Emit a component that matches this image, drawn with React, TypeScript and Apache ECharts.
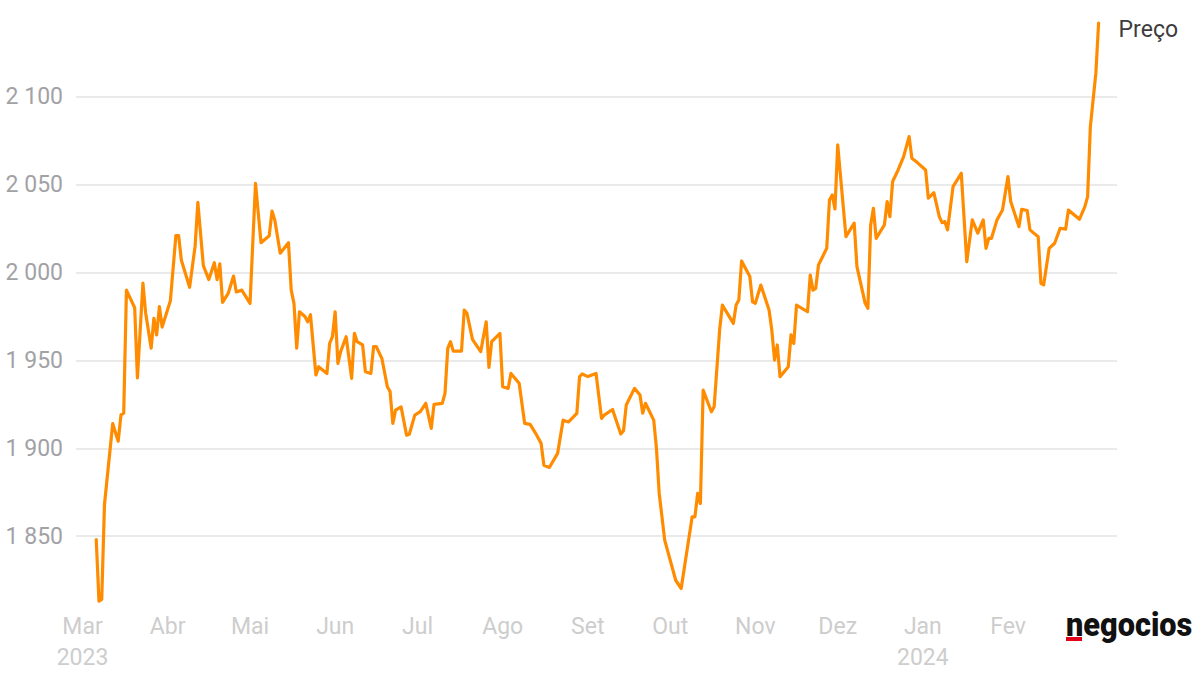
import React, { useEffect, useRef } from "react";
import * as echarts from "echarts";

// Days counted from 1 March 2023
const dayOffsets = [
  5, 6, 7, 8, 11, 13, 14, 15, 16, 19, 20, 22, 23, 25, 26, 27, 28, 29, 32, 34, 35, 36, 39, 41, 42, 44, 46, 48, 49, 50,
  51, 53, 55, 56, 58, 61, 63, 65, 68, 69, 70, 72, 75, 76, 77, 78, 79, 81, 82, 83, 85, 86, 89, 90, 91, 92, 93, 94, 96, 98,
  99, 100, 102, 103, 105, 106, 107, 109, 111, 112, 113, 114, 116, 118, 119, 121, 123, 125, 127, 128, 131, 132, 133, 134, 135, 138, 139, 140, 142, 145,
  147, 148, 149, 152, 153, 155, 156, 159, 161, 163, 165, 167, 168, 170, 173, 175, 177, 180, 181, 182, 184, 187, 189, 190, 193, 196, 197, 198, 201, 203,
  204, 205, 208, 209, 210, 212, 216, 218, 222, 223, 224, 225, 226, 229, 230, 232, 233, 237, 238, 239, 240, 243, 244, 245, 247, 250, 251, 252, 253, 254,
  257, 258, 259, 260, 264, 265, 266, 267, 268, 271, 272, 273, 274, 275, 278, 281, 282, 285, 286, 287, 288, 289, 292, 293, 294, 295, 297, 299, 301, 302,
  304, 307, 308, 310, 312, 313, 314, 315, 317, 320, 322, 324, 326, 328, 329, 330, 331, 333, 335, 337, 338, 341, 342, 344, 345, 348, 349, 350, 352, 354,
  356, 358, 359, 363, 365, 366, 367, 369, 370,
];

const prices = [
  1848, 1813, 1814, 1868, 1914, 1904, 1919, 1920, 1990, 1980, 1940, 1994, 1977, 1957, 1974, 1964.5, 1980.6, 1969, 1984, 2021, 2021, 2007, 1991.6, 2015, 2040, 2004, 1996, 2005.6, 1996, 2005,
  1983, 1988, 1998, 1989, 1990, 1982.5, 2050.8, 2017, 2021, 2035, 2030, 2011, 2017, 1990, 1982.5, 1957, 1977.7, 1975, 1972, 1976, 1941.7, 1946.4, 1942.6, 1959.7, 1963.5, 1977.7, 1948.3, 1955, 1963.5, 1939.8,
  1965.4, 1960.7, 1958.8, 1943.6, 1942.6, 1957.8, 1957.8, 1951.2, 1935, 1932.3, 1914.2, 1921.7, 1923.6, 1907.5, 1908, 1918.9, 1920.8, 1925.6, 1911.3, 1925, 1925.6, 1931.3, 1956.9, 1960.7, 1955.3, 1955.3, 1978.7, 1976.8, 1962, 1955,
  1972, 1946.1, 1960.7, 1965.4, 1935, 1934.1, 1942.6, 1937, 1914.2, 1913.6, 1908.5, 1902.8, 1890.4, 1889.1, 1897.1, 1916, 1915, 1919.9, 1940.8, 1942.3, 1940.8, 1942.6, 1917, 1918.9, 1922.1, 1908.1, 1910, 1924.6, 1934.1, 1930.3,
  1920, 1925.6, 1916, 1900, 1874.3, 1847.7, 1824.9, 1820.2, 1861, 1861, 1874.3, 1868.6, 1933.1, 1920.8, 1923.6, 1967.3, 1981.5, 1971.1, 1981.5, 1984.4, 2006.6, 1997.7, 1983.4, 1982.5, 1992.9, 1978.7, 1967.3, 1950.2, 1958.8, 1940.7,
  1946.4, 1964.5, 1959.7, 1981.5, 1977.7, 1998.6, 1990, 1991, 2004.3, 2013.8, 2041.3, 2044.2, 2036.2, 2072.7, 2020.5, 2028.1, 2003.4, 1982.5, 1979.7, 2027.1, 2036.6, 2019.5, 2027.1, 2040.4, 2031.8, 2051.8, 2058.4, 2066, 2077.4, 2065.1,
  2062.6, 2058.4, 2042.3, 2045.5, 2031.8, 2028.4, 2029, 2024.3, 2048.9, 2056.5, 2006.2, 2030, 2022.4, 2030, 2013.8, 2019.5, 2019.5, 2030, 2035.6, 2054.6, 2040.4, 2026.1, 2036, 2035.3, 2024.3, 2020.4, 1993.9, 1993, 2013.8, 2016.7,
  2025.2, 2024.7, 2035.6, 2030.3, 2037.5, 2043.2, 2083.1, 2113.5, 2142,
];

const monthNames = ["Jan", "Fev", "Mar", "Abr", "Mai", "Jun", "Jul", "Ago", "Set", "Out", "Nov", "Dez"];
// month starts shown on the x axis: [year, monthIndex]
const monthTicks: [number, number][] = [
  [2023, 2], [2023, 3], [2023, 4], [2023, 5], [2023, 6], [2023, 7],
  [2023, 8], [2023, 9], [2023, 10], [2023, 11], [2024, 0], [2024, 1],
];
const seriesName = "Preço";

const DAY = 86400000;
const BASE = Date.UTC(2023, 2, 1);
const toOffset = (y: number, m: number) => Math.round((Date.UTC(y, m, 1) - BASE) / DAY);
const offsetToDate = (d: number) => new Date(BASE + d * DAY);

export default function App() {
  const ref = useRef<HTMLDivElement>(null);
  useEffect(() => {
    if (!ref.current) return;
    const chart = echarts.init(ref.current, null, { renderer: "svg" });
    const data = dayOffsets.map((d, i) => [d, prices[i]]);
    const tickValues = monthTicks.map(([y, m]) => toOffset(y, m));
    const yearShown = new Set([tickValues[0], tickValues[10]]);
    chart.setOption({
      animation: false,
      grid: { left: 76, right: 83, top: 9, bottom: 52 },
      xAxis: {
        type: "value",
        min: -2.37,
        max: 376.7,
        axisLine: { show: false },
        axisTick: { show: false },
        splitLine: { show: false },
        axisLabel: {
          customValues: tickValues,
          formatter: (v: number) => {
            const d = offsetToDate(v);
            const name = monthNames[d.getUTCMonth()];
            return yearShown.has(v) ? name + "\n" + d.getUTCFullYear() : name;
          },
          color: "#cdcdcd",
          fontSize: 23,
          fontFamily: "Roboto",
          lineHeight: 31,
          margin: -13,
        },
      },
      yAxis: {
        type: "value",
        min: 1800,
        max: 2150,
        interval: 50,
        axisLine: { show: false },
        axisTick: { show: false },
        axisLabel: {
          formatter: (v: number) =>
            v === 1800 || v === 2150 ? "" : String(v).replace(/\B(?=(\d{3})+(?!\d))/g, " "),
          color: "#a2a2a6",
          fontSize: 23,
          fontFamily: "Roboto",
          margin: 13,
        },
        splitLine: {
          showMinLine: false,
          showMaxLine: false,
          lineStyle: { color: "#e3e3e3", width: 1.5 },
        },
      },
      series: [
        {
          name: seriesName,
          type: "line",
          data,
          showSymbol: false,
          symbol: "none",
          lineStyle: { color: "#FF8C00", width: 3.2, join: "round", cap: "round" },
          itemStyle: { color: "#FF8C00" },
          endLabel: {
            show: true,
            formatter: seriesName,
            color: "#3d3d3d",
            fontSize: 23,
            fontFamily: "Roboto",
            distance: 20,
            offset: [0, 6],
          },
        },
      ],
      graphic: [
        {
          type: "text",
          left: 1066,
          top: 608,
          scaleX: 0.93,
          style: {
            text: "negocios",
            fill: "#111",
            font: "900 33px Roboto",
          },
        },
        {
          type: "rect",
          left: 1066,
          top: 637,
          shape: { width: 16, height: 4 },
          style: { fill: "#e2001a" },
        },
      ],
    });
    return () => chart.dispose();
  }, []);
  return (
    <div
      ref={ref}
      style={{ position: "fixed", left: 0, top: 0, width: 1200, height: 676, background: "#fff" }}
    />
  );
}
